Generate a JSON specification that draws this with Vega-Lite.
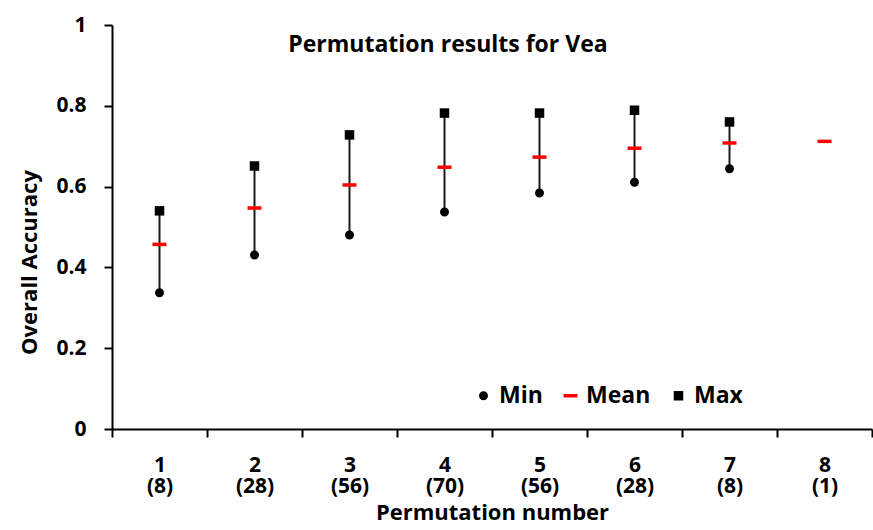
{
  "$schema": "https://vega.github.io/schema/vega-lite/v6.json",
  "autosize": {"type": "none"},
  "padding": {"left": 112, "top": 25, "right": 1, "bottom": 101},
  "width": 760,
  "height": 404,
  "background": "white",
  "title": {
    "text": "Permutation results for Vea",
    "font": "Open Sans",
    "fontSize": 23,
    "fontWeight": "bold",
    "color": "black",
    "anchor": "middle",
    "frame": "group",
    "baseline": "alphabetic",
    "offset": -61,
    "dx": -44
  },
  "config": {
    "view": {"stroke": null},
    "font": "Open Sans",
    "axis": {
      "grid": false,
      "domainColor": "black",
      "domainWidth": 2,
      "tickColor": "black",
      "tickWidth": 2,
      "tickSize": 8,
      "labelFont": "Open Sans",
      "labelFontWeight": "bold",
      "labelFontSize": 21,
      "labelColor": "black",
      "titleFont": "Open Sans",
      "titleFontWeight": "bold",
      "titleFontSize": 22,
      "titleColor": "black"
    }
  },
  "datasets": {
    "points": [
      {"perm": "1 (8)", "type": "Min", "value": 0.337},
      {"perm": "1 (8)", "type": "Mean", "value": 0.457},
      {"perm": "1 (8)", "type": "Max", "value": 0.540},
      {"perm": "2 (28)", "type": "Min", "value": 0.431},
      {"perm": "2 (28)", "type": "Mean", "value": 0.547},
      {"perm": "2 (28)", "type": "Max", "value": 0.651},
      {"perm": "3 (56)", "type": "Min", "value": 0.480},
      {"perm": "3 (56)", "type": "Mean", "value": 0.604},
      {"perm": "3 (56)", "type": "Max", "value": 0.728},
      {"perm": "4 (70)", "type": "Min", "value": 0.537},
      {"perm": "4 (70)", "type": "Mean", "value": 0.648},
      {"perm": "4 (70)", "type": "Max", "value": 0.782},
      {"perm": "5 (56)", "type": "Min", "value": 0.584},
      {"perm": "5 (56)", "type": "Mean", "value": 0.673},
      {"perm": "5 (56)", "type": "Max", "value": 0.782},
      {"perm": "6 (28)", "type": "Min", "value": 0.611},
      {"perm": "6 (28)", "type": "Mean", "value": 0.695},
      {"perm": "6 (28)", "type": "Max", "value": 0.789},
      {"perm": "7 (8)", "type": "Min", "value": 0.644},
      {"perm": "7 (8)", "type": "Mean", "value": 0.708},
      {"perm": "7 (8)", "type": "Max", "value": 0.760},
      {"perm": "8 (1)", "type": "Mean", "value": 0.712}
    ],
    "ranges": [
      {"perm": "1 (8)", "min": 0.337, "max": 0.540},
      {"perm": "2 (28)", "min": 0.431, "max": 0.651},
      {"perm": "3 (56)", "min": 0.480, "max": 0.728},
      {"perm": "4 (70)", "min": 0.537, "max": 0.782},
      {"perm": "5 (56)", "min": 0.584, "max": 0.782},
      {"perm": "6 (28)", "min": 0.611, "max": 0.789},
      {"perm": "7 (8)", "min": 0.644, "max": 0.760}
    ]
  },
  "encoding": {
    "x": {
      "field": "perm",
      "type": "nominal",
      "scale": {
        "domain": ["1 (8)", "2 (28)", "3 (56)", "4 (70)", "5 (56)", "6 (28)", "7 (8)", "8 (1)"],
        "paddingInner": 0,
        "paddingOuter": 0
      },
      "axis": {
        "title": "Permutation number",
        "labelAngle": 0,
        "labelExpr": "split(datum.label, ' ')",
        "labelLineHeight": 21,
        "labelPadding": 17,
        "labelBaseline": "top",
        "tickBand": "extent",
        "titlePadding": 6
      }
    }
  },
  "layer": [
    {
      "data": {"name": "ranges"},
      "mark": {"type": "rule", "color": "#1a1a1a", "strokeWidth": 2},
      "encoding": {
        "y": {"field": "min", "type": "quantitative"},
        "y2": {"field": "max"}
      }
    },
    {
      "data": {"name": "points"},
      "mark": {"type": "point", "filled": true, "size": 100, "opacity": 1},
      "encoding": {
        "y": {
          "field": "value",
          "type": "quantitative",
          "scale": {"domain": [0, 1], "nice": false},
          "axis": {
            "title": "Overall Accuracy",
            "values": [0, 0.2, 0.4, 0.6, 0.8, 1],
            "format": "~g",
            "labelPadding": 18,
            "titleY": 237,
            "titlePadding": 14
          }
        },
        "shape": {
          "field": "type",
          "type": "nominal",
          "scale": {
            "domain": ["Min", "Mean", "Max"],
            "range": [
              "M-0.9,0A0.9,0.9 0 1,0 0.9,0A0.9,0.9 0 1,0 -0.9,0Z",
              "M-1.4,-0.35H1.4V0.35H-1.4Z",
              "M-0.95,-0.95H0.95V0.95H-0.95Z"
            ]
          },
          "legend": {
            "title": null,
            "orient": "none",
            "legendX": 360,
            "legendY": 359,
            "direction": "horizontal",
            "labelFont": "Open Sans",
            "labelFontWeight": "bold",
            "labelFontSize": 23,
            "labelColor": "black",
            "symbolSize": 100,
            "symbolStrokeWidth": 0,
            "labelOffset": 4,
            "columnPadding": 16
          }
        },
        "color": {
          "field": "type",
          "type": "nominal",
          "scale": {"domain": ["Min", "Mean", "Max"], "range": ["black", "#ff0000", "black"]},
          "legend": {
            "title": null,
            "orient": "none",
            "legendX": 360,
            "legendY": 359,
            "direction": "horizontal",
            "labelFont": "Open Sans",
            "labelFontWeight": "bold",
            "labelFontSize": 23,
            "labelColor": "black",
            "symbolSize": 100,
            "symbolStrokeWidth": 0,
            "labelOffset": 4,
            "columnPadding": 16
          }
        }
      }
    }
  ]
}
